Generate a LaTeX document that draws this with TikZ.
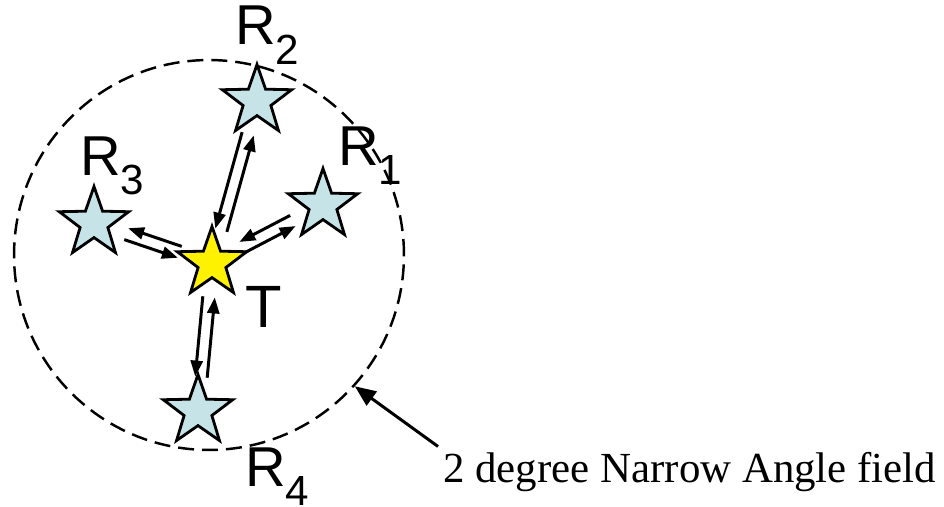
\documentclass[tikz,border=0pt]{standalone}
\usepackage{fontspec}
\setmainfont{Liberation Serif}
\newfontfamily\arialish{Liberation Sans}
\usetikzlibrary{arrows.meta,calc,shapes.geometric}
\definecolor{skyfill}{RGB}{198,228,231}
\newcommand\rsub[1]{\raisebox{-11pt}{\fontsize{24}{24}\selectfont #1}}

\begin{document}
\begin{tikzpicture}[x=0.02cm,y=-0.02cm,
    starnode/.style={star,star points=5,star point ratio=2.5,minimum size=1.46cm,inner sep=0pt,draw,line width=1.6pt,fill=skyfill},
    lbl/.style={anchor=base west,inner sep=0pt,font=\arialish\fontsize{32}{32}\selectfont},
    link/.style={line width=1.7pt,-{Triangle[length=0.32cm,width=0.24cm]},shorten <=0.68cm,shorten >=0.68cm}]
    \useasboundingbox (0,0) rectangle (944,507);
    % narrow angle field
    \node[circle,draw,dash pattern=on 0.32cm off 0.16cm,line width=1.4pt,minimum size=7.8cm,inner sep=0pt] (field) at (209,255) {};

    % stars
    \node[starnode,fill=yellow] (T) at (212,263) {};
    \node[starnode] (R1) at (323,205) {};
    \node[starnode] (R2) at (257,101) {};
    \node[starnode] (R3) at (94,223) {};
    \node[starnode] (R4) at (198,411) {};
    \foreach \r in {R1,R2,R3,R4}{
      \draw[link] ($(T)!0.12cm!-90:(\r)$) -- ($(\r)!0.12cm!90:(T)$);
      \draw[link] ($(\r)!0.12cm!-90:(T)$) -- ($(T)!0.12cm!90:(\r)$);
    }

    % labels
    \node[lbl] (lR1) at (338,165) {R\rsub{1}};
    \node[lbl] (lR2) at (235,45) {R\rsub{2}};
    \node[lbl] (lR3) at (80,175) {R\rsub{3}};
    \node[lbl] (lR4) at (245,486) {R\rsub{4}};
    \node[lbl,font=\arialish\fontsize{34}{34}\selectfont] (lT) at (245,327) {T};

    \node[anchor=base west,inner sep=0pt,font=\fontsize{24.4}{24.4}\selectfont] (note) at (443,482) {2 degree Narrow Angle field};
    \draw[line width=1.7pt,-{Triangle[length=0.42cm,width=0.34cm]}] ($(note.north west)+(-5,-5)$) -- (field.-42.7);
  \end{tikzpicture}
\end{document}
